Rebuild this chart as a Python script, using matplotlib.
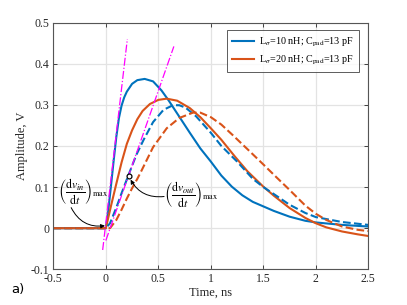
import numpy as np
import matplotlib.pyplot as plt

plt.rcParams['font.family'] = ['Liberation Serif', 'DejaVu Serif']
plt.rcParams['mathtext.fontset'] = 'stix'

# blue solid: L=10 nH (input)
t_b = [-0.5, 0.0, 0.02, 0.05, 0.075, 0.1, 0.125, 0.15, 0.175, 0.2, 0.25, 0.3, 0.37, 0.45,
       0.53, 0.6, 0.7, 0.8, 0.9, 1.0, 1.1, 1.2, 1.3, 1.4, 1.5, 1.6, 1.75, 1.9, 2.0, 2.25, 2.5]
v_b = [0.0, 0.0, 0.035, 0.105, 0.165, 0.222, 0.268, 0.298, 0.318, 0.332, 0.351, 0.36, 0.363, 0.357,
       0.335, 0.31, 0.271, 0.232, 0.194, 0.162, 0.128, 0.101, 0.08, 0.064, 0.053, 0.042, 0.028,
       0.018, 0.014, 0.008, 0.004]
# blue dashed: L=10 nH (output)
t_bd = [-0.5, 0.0, 0.04, 0.1, 0.15, 0.214, 0.29, 0.36, 0.45, 0.55, 0.64, 0.7, 0.76, 0.86,
        1.0, 1.1, 1.25, 1.4, 1.5, 1.6, 1.75, 1.9, 2.0, 2.25, 2.5]
v_bd = [0.0, 0.0, 0.012, 0.05, 0.085, 0.128, 0.178, 0.215, 0.258, 0.288, 0.299, 0.299, 0.293,
        0.272, 0.232, 0.2, 0.162, 0.12, 0.1, 0.083, 0.057, 0.037, 0.027, 0.015, 0.008]
# orange solid: L=20 nH (input)
t_o = [-0.5, 0.0, 0.05, 0.1, 0.15, 0.2, 0.25, 0.3, 0.35, 0.42, 0.5, 0.58, 0.68, 0.8, 0.9,
       1.0, 1.1, 1.23, 1.35, 1.5, 1.6, 1.75, 1.9, 2.0, 2.1, 2.25, 2.4, 2.5]
v_o = [0.0, 0.0, 0.055, 0.108, 0.16, 0.205, 0.238, 0.265, 0.285, 0.302, 0.312, 0.315, 0.31,
       0.292, 0.27, 0.243, 0.215, 0.174, 0.138, 0.101, 0.079, 0.049, 0.025, 0.012, 0.002,
       -0.008, -0.015, -0.019]
# orange dashed: L=20 nH (output)
t_od = [-0.5, 0.04, 0.1, 0.15, 0.2, 0.25, 0.3, 0.34, 0.45, 0.58, 0.7, 0.83, 0.9, 1.0, 1.1,
        1.21, 1.37, 1.5, 1.62, 1.75, 1.9, 2.0, 2.1, 2.25, 2.4, 2.5]
v_od = [0.0, 0.0, 0.02, 0.045, 0.072, 0.097, 0.12, 0.14, 0.197, 0.243, 0.268, 0.281, 0.281,
        0.27, 0.252, 0.226, 0.187, 0.155, 0.125, 0.093, 0.055, 0.035, 0.02, 0.004, -0.004, -0.007]

# tangent lines
tan1_t = [-0.03, 0.205]
tan1_v = [-0.053, 0.46]
tan2_t = [0.0, 0.648]
tan2_v = [-0.03, 0.442]
mark_t, mark_v = 0.216, 0.128

blue = '#0072BD'
orange = '#D95319'

fig = plt.figure(figsize=(4.07, 3.05), dpi=100)
ax = fig.add_axes([0.131, 0.117, 0.774, 0.809])

ax.plot(t_b, v_b, '-', color=blue, lw=1.5, label=r'L$_\sigma$=10 nH; C$_{\mathrm{pad}}$=13 pF')
ax.plot(t_o, v_o, '-', color=orange, lw=1.5, label=r'L$_\sigma$=20 nH; C$_{\mathrm{pad}}$=13 pF')
ax.plot(t_bd, v_bd, '--', color=blue, lw=1.5)
ax.plot(t_od, v_od, '--', color=orange, lw=1.5)
ax.plot(tan1_t, tan1_v, '-.', color='#FF00FF', lw=0.9)
ax.plot(tan2_t, tan2_v, '-.', color='#FF00FF', lw=0.9)
ax.plot(mark_t, mark_v, 'o', mfc='white', mec='black', ms=3.5, mew=0.9)

ax.annotate('', xy=(-0.008, 0.006), xytext=(-0.33, 0.05),
            arrowprops=dict(arrowstyle='-|>', color='black', lw=0.7,
                            mutation_scale=6, connectionstyle='arc3,rad=0.35',
                            shrinkA=0, shrinkB=0))
ax.annotate('', xy=(mark_t + 0.008, mark_v - 0.004), xytext=(0.555, 0.077),
            arrowprops=dict(arrowstyle='-|>', color='black', lw=0.7,
                            mutation_scale=6, connectionstyle='arc3,rad=-0.35',
                            shrinkA=0, shrinkB=2))
ax.text(-0.455, 0.087, r'$\left(\dfrac{\mathrm{d}v_{in}}{\mathrm{d}t}\right)_{\mathrm{max}}$',
        fontsize=8.5, ha='left', va='center')
ax.text(0.555, 0.08, r'$\left(\dfrac{\mathrm{d}v_{out}}{\mathrm{d}t}\right)_{\mathrm{max}}$',
        fontsize=8.5, ha='left', va='center')

ax.set_xlim(-0.5, 2.5)
ax.set_ylim(-0.1, 0.5)
ax.set_xticks(np.arange(-0.5, 2.51, 0.5))
ax.set_xticklabels(['-0.5', '0', '0.5', '1', '1.5', '2', '2.5'])
ax.set_yticks(np.arange(-0.1, 0.51, 0.1))
ax.set_yticklabels(['-0.1', '0', '0.1', '0.2', '0.3', '0.4', '0.5'])
ax.tick_params(direction='in', top=True, right=True, length=3, width=0.6,
               labelsize=8.5, colors='#262626', pad=3)
for s in ax.spines.values():
    s.set_color('#555555')
    s.set_linewidth(0.8)
ax.grid(True, color='#e3e3e3', lw=0.9)
ax.set_axisbelow(True)
ax.set_xlabel('Time, ns', fontsize=9, color='#262626', labelpad=1)
ax.set_ylabel('Amplitude, V', fontsize=9, color='#262626', labelpad=2)

leg = ax.legend(loc='upper right', fontsize=7.3, frameon=True, fancybox=False,
                edgecolor='#333333', handlelength=2.2, handletextpad=0.5,
                borderpad=0.5, labelspacing=0.55, borderaxespad=0,
                bbox_to_anchor=(0.971, 0.968))
leg.get_frame().set_linewidth(0.7)

fig.text(0.027, 0.04, 'a)', fontsize=9.5, family='DejaVu Sans')

fig.savefig('out.png', dpi=100)
